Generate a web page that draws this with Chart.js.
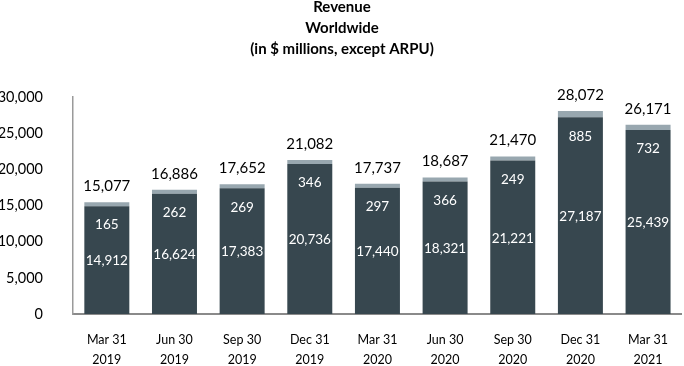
<!DOCTYPE html>
<html>
<head>
<meta charset="utf-8">
<script src="https://cdn.jsdelivr.net/npm/chart.js@4.4.0/dist/chart.umd.min.js"></script>
<style>
  html, body { margin: 0; padding: 0; background: #fff; }
  #wrap { width: 684px; height: 366px; position: relative; }
</style>
</head>
<body>
<div id="wrap"><canvas id="revChart"></canvas></div>
<script>
// quarters
const quarters = [
  ['Mar 31', '2019'], ['Jun 30', '2019'], ['Sep 30', '2019'], ['Dec 31', '2019'],
  ['Mar 31', '2020'], ['Jun 30', '2020'], ['Sep 30', '2020'], ['Dec 31', '2020'],
  ['Mar 31', '2021']
];
// the big (dark) part and the small (grey) part on top
const mainRevenue = [14912, 16624, 17383, 20736, 17440, 18321, 21221, 27187, 25439];
const otherRevenue = [165, 262, 269, 346, 297, 366, 249, 885, 732];
const totals = [15077, 16886, 17652, 21082, 17737, 18687, 21470, 28072, 26171];
const yTicks = [0, 5000, 10000, 15000, 20000, 25000, 30000];

const FONT = 'Lato, "Open Sans", sans-serif';
const darkColor = '#37474F';
const greyColor = '#98A7AF';

const fmt = v => v.toLocaleString('en-US');

// draws the numbers on and above the bars
const barLabels = {
  id: 'barLabels',
  afterDatasetsDraw(chart) {
    const ctx = chart.ctx;
    const dark = chart.getDatasetMeta(0).data;
    const grey = chart.getDatasetMeta(1).data;
    ctx.save();
    ctx.textAlign = 'center';
    ctx.textBaseline = 'middle';
    for (let i = 0; i < dark.length; i++) {
      const d = dark[i];
      const g = grey[i];
      // total above
      ctx.fillStyle = '#000';
      ctx.font = '15px ' + FONT;
      ctx.fillText(fmt(totals[i]), g.x, g.y - 16);
      // grey value, just under the grey cap
      ctx.fillStyle = '#fff';
      ctx.font = '13.5px ' + FONT;
      ctx.fillText(fmt(otherRevenue[i]), d.x, d.y + 19);
      // dark value in the middle of the dark bar
      ctx.fillText(fmt(mainRevenue[i]), d.x, (d.y + d.base) / 2 + 1);
    }
    ctx.restore();
  }
};

new Chart(document.getElementById('revChart'), {
  type: 'bar',
  data: {
    labels: quarters,
    datasets: [
      {
        data: mainRevenue,
        backgroundColor: darkColor,
        borderWidth: 0,
        categoryPercentage: 1,
        barPercentage: 0.665
      },
      {
        data: otherRevenue,
        backgroundColor: greyColor,
        borderWidth: 0,
        minBarLength: 4,
        categoryPercentage: 1,
        barPercentage: 0.665
      }
    ]
  },
  options: {
    responsive: true,
    maintainAspectRatio: false,
    animation: false,
    layout: { padding: { top: 0, right: 0, bottom: 0, left: 0 } },
    plugins: {
      legend: { display: false },
      tooltip: { enabled: false },
      title: {
        display: true,
        text: ['Revenue', 'Worldwide', '(in $ millions, except ARPU)'],
        color: '#000',
        font: { family: FONT, size: 15, weight: 'bold', lineHeight: 1.4 },
        padding: { top: -3, bottom: 37 }
      }
    },
    scales: {
      x: {
        stacked: true,
        grid: { display: false, drawTicks: false },
        border: { display: true, color: '#8a8a8a', width: 2 },
        ticks: {
          color: '#000',
          font: { family: FONT, size: 12.5, lineHeight: 1.6 },
          padding: 16,
          maxRotation: 0,
          autoSkip: false
        },
        afterFit(scale) { scale.height = 52; }
      },
      y: {
        stacked: true,
        min: 0,
        max: 30000,
        afterBuildTicks(scale) { scale.ticks = yTicks.map(v => ({ value: v })); },
        grid: { display: false, drawTicks: false },
        border: { display: true, color: '#9a9a9a', width: 1.5 },
        ticks: {
          color: '#000',
          font: { family: FONT, size: 14.5 },
          padding: 30,
          callback: v => fmt(v)
        },
        afterFit(scale) { scale.width = 73; }
      }
    }
  },
  plugins: [barLabels]
});
</script>
</body>
</html>
